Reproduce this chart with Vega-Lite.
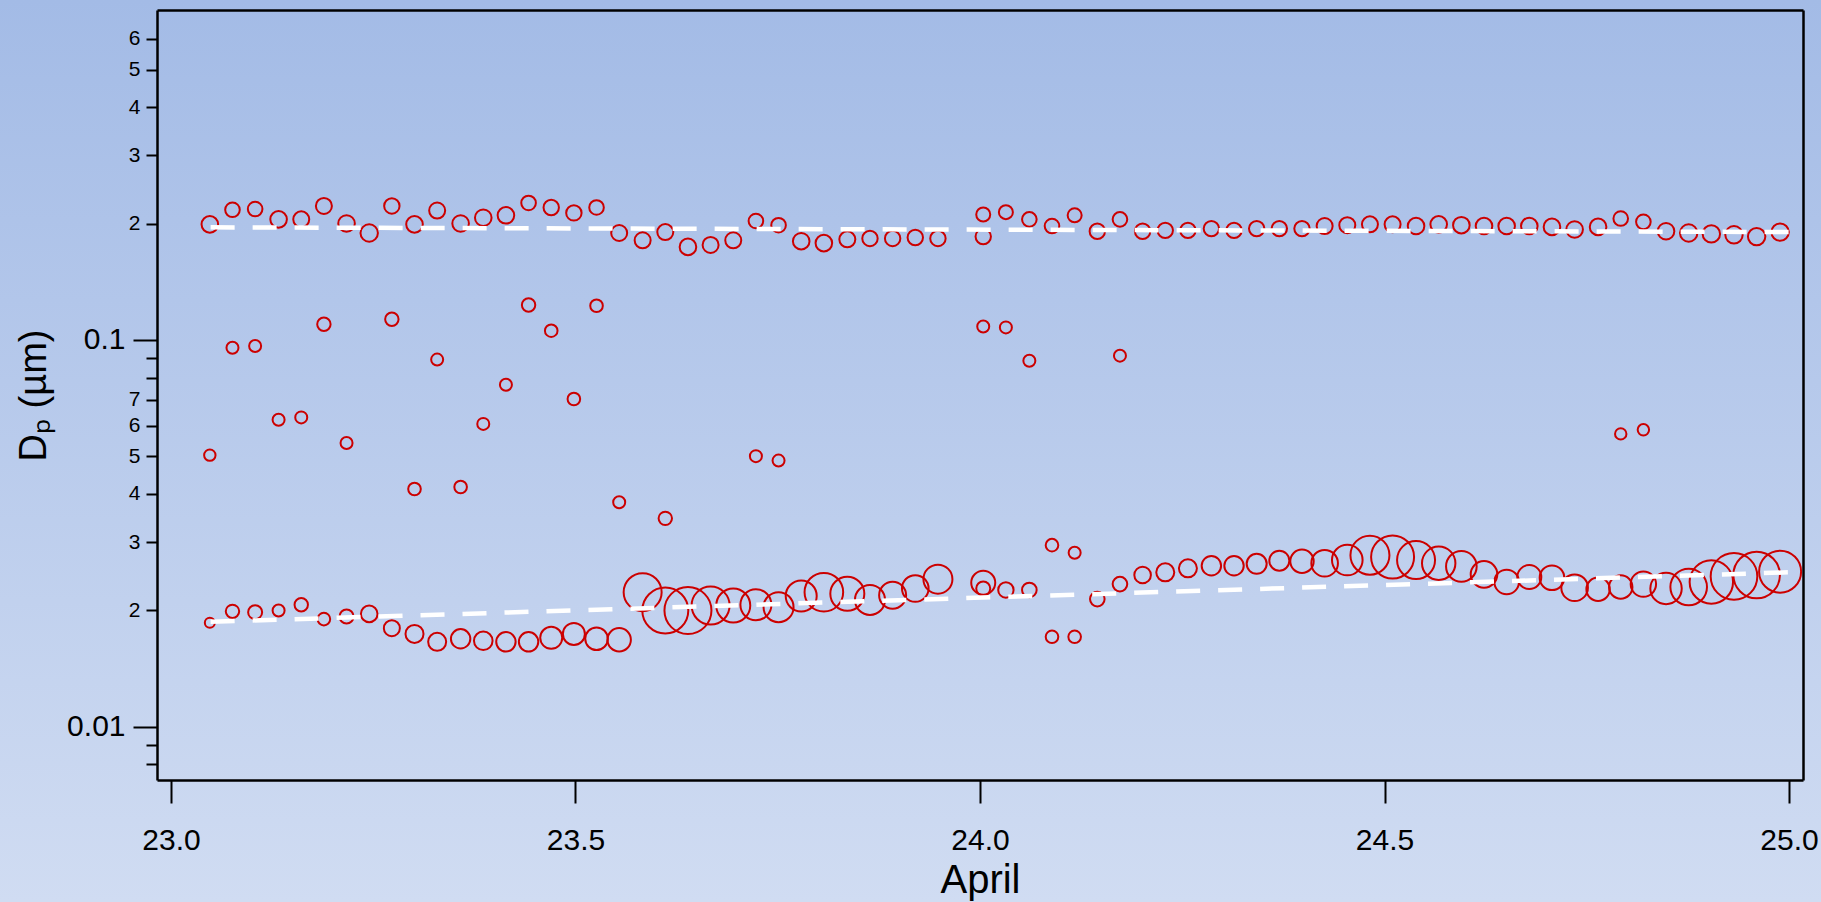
{
  "$schema": "https://vega.github.io/schema/vega-lite/v6.json",
  "width": 1646,
  "height": 770,
  "autosize": {"type": "none"},
  "padding": {"left": 157, "top": 10, "right": 18, "bottom": 122},
  "background": "#b9cbec",
  "view": {
    "fill": {"gradient": "linear", "x1": 0, "y1": -0.013, "x2": 0, "y2": 1.158, "stops": [{"offset": 0, "color": "#a3bbe6"}, {"offset": 1, "color": "#d0dcf2"}]},
    "stroke": {"gradient": "linear", "x1": 0, "y1": -0.013, "x2": 0, "y2": 1.158, "stops": [{"offset": 0, "color": "#a3bbe6"}, {"offset": 1, "color": "#d0dcf2"}]},
    "strokeWidth": 340
  },
  "datasets": {
    "points": [
      {"t":23.048,"d":0.199,"n":830},{"t":23.076,"d":0.217,"n":730},{"t":23.104,"d":0.218,"n":730},{"t":23.133,"d":0.205,"n":830},
      {"t":23.161,"d":0.205,"n":800},{"t":23.189,"d":0.222,"n":800},{"t":23.217,"d":0.200,"n":830},{"t":23.245,"d":0.189,"n":870},
      {"t":23.273,"d":0.222,"n":770},{"t":23.301,"d":0.199,"n":830},{"t":23.329,"d":0.216,"n":800},{"t":23.358,"d":0.200,"n":830},
      {"t":23.386,"d":0.207,"n":830},{"t":23.414,"d":0.210,"n":830},{"t":23.442,"d":0.226,"n":730},{"t":23.470,"d":0.220,"n":770},
      {"t":23.498,"d":0.213,"n":770},{"t":23.526,"d":0.220,"n":730},{"t":23.554,"d":0.189,"n":800},{"t":23.583,"d":0.181,"n":800},
      {"t":23.611,"d":0.190,"n":800},{"t":23.639,"d":0.174,"n":830},{"t":23.667,"d":0.176,"n":800},{"t":23.695,"d":0.181,"n":800},
      {"t":23.723,"d":0.203,"n":730},{"t":23.751,"d":0.198,"n":730},{"t":23.779,"d":0.180,"n":830},{"t":23.807,"d":0.178,"n":830},
      {"t":23.836,"d":0.182,"n":800},{"t":23.864,"d":0.183,"n":770},{"t":23.892,"d":0.183,"n":770},{"t":23.920,"d":0.184,"n":770},
      {"t":23.948,"d":0.183,"n":770},{"t":24.004,"d":0.211,"n":700},{"t":24.004,"d":0.185,"n":770},{"t":24.032,"d":0.214,"n":700},
      {"t":24.061,"d":0.205,"n":730},{"t":24.089,"d":0.197,"n":730},{"t":24.117,"d":0.210,"n":700},{"t":24.145,"d":0.191,"n":770},
      {"t":24.173,"d":0.205,"n":730},{"t":24.201,"d":0.191,"n":770},{"t":24.229,"d":0.192,"n":770},{"t":24.257,"d":0.192,"n":770},
      {"t":24.286,"d":0.194,"n":770},{"t":24.314,"d":0.192,"n":770},{"t":24.342,"d":0.194,"n":770},{"t":24.370,"d":0.194,"n":770},
      {"t":24.398,"d":0.194,"n":770},{"t":24.426,"d":0.197,"n":800},{"t":24.454,"d":0.198,"n":800},{"t":24.482,"d":0.199,"n":800},
      {"t":24.510,"d":0.199,"n":800},{"t":24.539,"d":0.197,"n":830},{"t":24.567,"d":0.199,"n":830},{"t":24.595,"d":0.198,"n":830},
      {"t":24.623,"d":0.197,"n":830},{"t":24.651,"d":0.197,"n":830},{"t":24.679,"d":0.197,"n":830},{"t":24.707,"d":0.196,"n":830},
      {"t":24.735,"d":0.193,"n":830},{"t":24.764,"d":0.196,"n":830},{"t":24.792,"d":0.206,"n":730},{"t":24.820,"d":0.202,"n":730},
      {"t":24.848,"d":0.191,"n":830},{"t":24.876,"d":0.189,"n":870},{"t":24.904,"d":0.188,"n":870},{"t":24.932,"d":0.187,"n":870},
      {"t":24.960,"d":0.185,"n":870},{"t":24.989,"d":0.190,"n":870},

      {"t":23.048,"d":0.0504,"n":570},{"t":23.076,"d":0.0955,"n":600},{"t":23.104,"d":0.0965,"n":600},{"t":23.133,"d":0.0622,"n":600},
      {"t":23.161,"d":0.0631,"n":600},{"t":23.189,"d":0.1098,"n":670},{"t":23.217,"d":0.0542,"n":600},{"t":23.273,"d":0.1131,"n":670},
      {"t":23.301,"d":0.0412,"n":630},{"t":23.329,"d":0.0890,"n":600},{"t":23.358,"d":0.0417,"n":630},{"t":23.386,"d":0.0607,"n":600},
      {"t":23.414,"d":0.0766,"n":600},{"t":23.442,"d":0.1231,"n":670},{"t":23.470,"d":0.1057,"n":630},{"t":23.498,"d":0.0704,"n":630},
      {"t":23.526,"d":0.1226,"n":630},{"t":23.554,"d":0.0381,"n":600},{"t":23.611,"d":0.0346,"n":670},{"t":23.723,"d":0.0501,"n":600},
      {"t":23.751,"d":0.0488,"n":600},{"t":24.004,"d":0.1084,"n":600},{"t":24.032,"d":0.1078,"n":600},{"t":24.061,"d":0.0884,"n":600},
      {"t":24.089,"d":0.0295,"n":630},{"t":24.089,"d":0.0171,"n":630},{"t":24.117,"d":0.0282,"n":600},{"t":24.117,"d":0.0171,"n":630},
      {"t":24.173,"d":0.0911,"n":600},{"t":24.792,"d":0.0572,"n":570},{"t":24.820,"d":0.0586,"n":570},

      {"t":23.048,"d":0.0186,"n":500},{"t":23.076,"d":0.0199,"n":670},{"t":23.104,"d":0.0198,"n":700},{"t":23.133,"d":0.0200,"n":600},
      {"t":23.161,"d":0.0207,"n":670},{"t":23.189,"d":0.0190,"n":630},{"t":23.217,"d":0.0193,"n":700},{"t":23.245,"d":0.0196,"n":830},
      {"t":23.273,"d":0.0180,"n":800},{"t":23.301,"d":0.0174,"n":900},{"t":23.329,"d":0.0166,"n":900},{"t":23.358,"d":0.0169,"n":970},
      {"t":23.386,"d":0.0167,"n":930},{"t":23.414,"d":0.0166,"n":970},{"t":23.442,"d":0.0166,"n":970},{"t":23.470,"d":0.0170,"n":1100},
      {"t":23.498,"d":0.0174,"n":1100},{"t":23.526,"d":0.0169,"n":1130},{"t":23.554,"d":0.0168,"n":1170},{"t":23.583,"d":0.0223,"n":1900},
      {"t":23.611,"d":0.0200,"n":2300},{"t":23.639,"d":0.0200,"n":2350},{"t":23.667,"d":0.0206,"n":1900},{"t":23.695,"d":0.0206,"n":1700},
      {"t":23.723,"d":0.0207,"n":1550},{"t":23.751,"d":0.0204,"n":1500},{"t":23.779,"d":0.0218,"n":1550},{"t":23.807,"d":0.0223,"n":1930},
      {"t":23.836,"d":0.0221,"n":1700},{"t":23.864,"d":0.0213,"n":1500},{"t":23.892,"d":0.0219,"n":1350},{"t":23.920,"d":0.0228,"n":1330},
      {"t":23.948,"d":0.0241,"n":1450},{"t":24.004,"d":0.0236,"n":1200},{"t":24.004,"d":0.0228,"n":700},{"t":24.032,"d":0.0226,"n":770},
      {"t":24.061,"d":0.0226,"n":730},{"t":24.145,"d":0.0214,"n":730},{"t":24.173,"d":0.0234,"n":730},{"t":24.201,"d":0.0247,"n":830},
      {"t":24.229,"d":0.0251,"n":900},{"t":24.257,"d":0.0257,"n":900},{"t":24.286,"d":0.0261,"n":970},{"t":24.314,"d":0.0261,"n":970},
      {"t":24.342,"d":0.0264,"n":1000},{"t":24.370,"d":0.0269,"n":1000},{"t":24.398,"d":0.0268,"n":1170},{"t":24.426,"d":0.0265,"n":1330},
      {"t":24.454,"d":0.0270,"n":1530},{"t":24.482,"d":0.0278,"n":1950},{"t":24.510,"d":0.0275,"n":2150},{"t":24.539,"d":0.0270,"n":1900},
      {"t":24.567,"d":0.0265,"n":1670},{"t":24.595,"d":0.0260,"n":1530},{"t":24.623,"d":0.0248,"n":1330},{"t":24.651,"d":0.0237,"n":1230},
      {"t":24.679,"d":0.0244,"n":1200},{"t":24.707,"d":0.0243,"n":1230},{"t":24.735,"d":0.0229,"n":1330},{"t":24.764,"d":0.0227,"n":1170},
      {"t":24.792,"d":0.0230,"n":1170},{"t":24.820,"d":0.0234,"n":1270},{"t":24.848,"d":0.0228,"n":1570},{"t":24.876,"d":0.0230,"n":1830},
      {"t":24.904,"d":0.0237,"n":2170},{"t":24.932,"d":0.0245,"n":2330},{"t":24.960,"d":0.0247,"n":2330},{"t":24.989,"d":0.0252,"n":2100}
    ],
    "fits": [
      {"fit": "upper", "t": 23.049, "d": 0.1955},
      {"fit": "upper", "t": 25.0, "d": 0.1901},
      {"fit": "lower", "t": 23.049, "d": 0.0187},
      {"fit": "lower", "t": 25.0, "d": 0.0251}
    ]
  },
  "resolve": {"scale": {"x": "shared", "y": "shared"}, "axis": {"x": "independent", "y": "independent"}},
  "layer": [
    {
      "data": {"name": "points"},
      "mark": {"type": "point", "shape": "circle", "filled": false, "color": "#cc0000", "strokeWidth": 2, "opacity": 1},
      "encoding": {
        "x": {"field": "t", "type": "quantitative",
          "scale": {"domain": [22.9827, 25.0173], "nice": false, "zero": false},
          "axis": {"orient": "bottom", "values": [23, 23.5, 24, 24.5, 25], "format": ".1f", "grid": false,
            "domain": true, "domainColor": "#000000", "domainWidth": 2.5,
            "ticks": true, "tickColor": "#000000", "tickWidth": 2, "tickSize": 23,
            "labelFont": "Liberation Sans", "labelFontSize": 30, "labelColor": "#000000", "labelPadding": 22,
            "labelFlush": false, "labelOverlap": false,
            "title": "April", "titleFont": "Liberation Sans", "titleFontSize": 40, "titleFontWeight": "normal",
            "titleColor": "#000000", "titleY": 112, "titleBaseline": "alphabetic"}},
        "y": {"field": "d", "type": "quantitative",
          "scale": {"type": "log", "domain": [0.007295, 0.7124], "nice": false},
          "axis": {"orient": "left", "values": [0.01, 0.1], "labelExpr": "datum.value < 0.05 ? '0.01' : '0.1'",
            "grid": false, "domain": true, "domainColor": "#000000", "domainWidth": 2.5,
            "ticks": true, "tickColor": "#000000", "tickWidth": 2, "tickSize": 24,
            "labelFont": "Liberation Sans", "labelFontSize": 30, "labelColor": "#000000", "labelPadding": 8,
            "labelOverlap": false, "labelFlush": false, "labelBound": false,
            "title": "Dₚ (µm)", "titleFont": "Liberation Sans", "titleFontSize": 38, "titleFontWeight": "normal",
            "titleColor": "#000000", "titleX": -112, "titleBaseline": "alphabetic"}},
        "size": {"field": "n", "type": "quantitative",
          "scale": {"type": "pow", "exponent": 2, "domain": [0, 2500], "range": [0, 2500]}, "legend": null}
      }
    },
    {
      "data": {"name": "fits"},
      "transform": [{"filter": "datum.fit == 'upper'"}],
      "mark": {"type": "line", "color": "#ffffff", "strokeWidth": 4.5, "strokeDash": [24, 18], "strokeCap": "butt"},
      "encoding": {
        "x": {"field": "t", "type": "quantitative",
          "scale": {"domain": [22.9827, 25.0173], "nice": false, "zero": false},
          "axis": {"orient": "top", "domain": true, "domainColor": "#000000", "domainWidth": 2.5,
            "ticks": false, "labels": false, "grid": false, "title": null}},
        "y": {"field": "d", "type": "quantitative",
          "scale": {"type": "log", "domain": [0.007295, 0.7124], "nice": false},
          "axis": {"orient": "left", "values": [0.008, 0.009, 0.02, 0.03, 0.04, 0.05, 0.06, 0.07, 0.08, 0.09, 0.2, 0.3, 0.4, 0.5, 0.6],
            "labelExpr": "(datum.value < 0.0095 || (datum.value > 0.075 && datum.value < 0.095)) ? '' : format(datum.value < 0.1 ? datum.value * 100 : datum.value * 10, '.0f')",
            "grid": false, "domain": false,
            "ticks": true, "tickColor": "#000000", "tickWidth": 2, "tickSize": 11,
            "labelFont": "Liberation Sans", "labelFontSize": 21, "labelColor": "#000000", "labelPadding": 6,
            "labelOverlap": false, "labelFlush": false, "labelBound": false, "title": null}}
      }
    },
    {
      "data": {"name": "fits"},
      "transform": [{"filter": "datum.fit == 'lower'"}],
      "mark": {"type": "line", "color": "#ffffff", "strokeWidth": 4.5, "strokeDash": [24, 18], "strokeCap": "butt"},
      "encoding": {
        "x": {"field": "t", "type": "quantitative",
          "scale": {"domain": [22.9827, 25.0173], "nice": false, "zero": false},
          "axis": null},
        "y": {"field": "d", "type": "quantitative",
          "scale": {"type": "log", "domain": [0.007295, 0.7124], "nice": false},
          "axis": {"orient": "right", "domain": true, "domainColor": "#000000", "domainWidth": 2.5,
            "ticks": false, "labels": false, "grid": false, "title": null}}
      }
    }
  ]
}
